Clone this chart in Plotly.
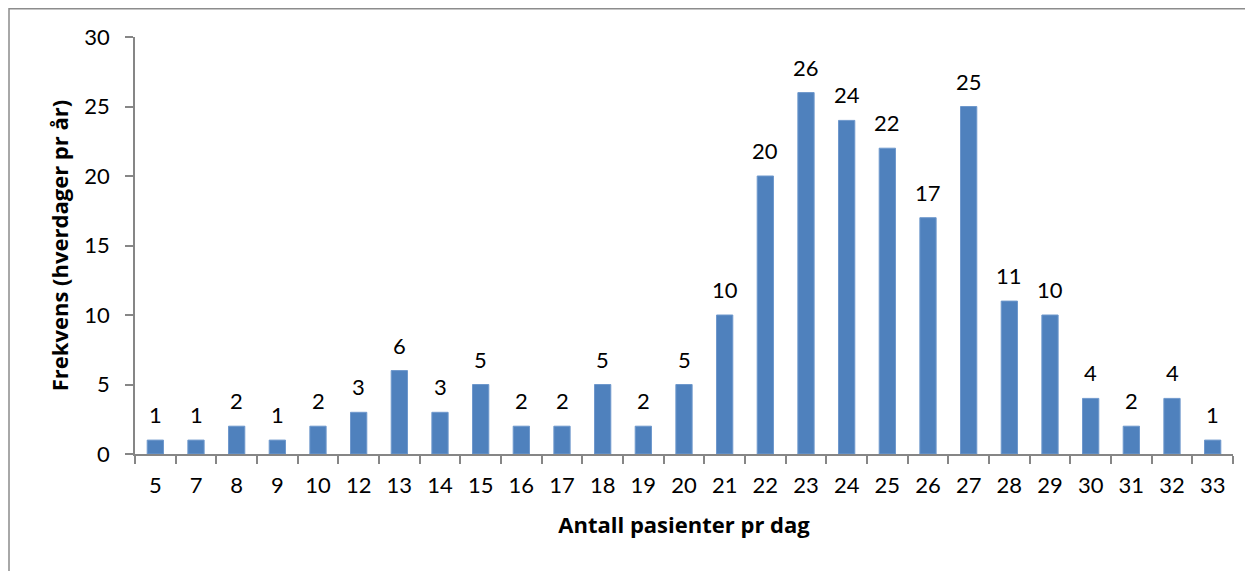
import plotly.graph_objects as go

categories = ["5", "7", "8", "9", "10", "12", "13", "14", "15", "16", "17", "18", "19", "20",
              "21", "22", "23", "24", "25", "26", "27", "28", "29", "30", "31", "32", "33"]
values = [1, 1, 2, 1, 2, 3, 6, 3, 5, 2, 2, 5, 2, 5, 10, 20, 26, 24, 22, 17, 25, 11, 10, 4, 2, 4, 1]

FONT = "Lato"
TFONT = "Open Sans"
AX = "#868686"
FS = 22
TS = 22

fig = go.Figure(go.Bar(
    x=categories, y=values,
    marker=dict(color="#4F81BD", line=dict(color="#6E98CC", width=1)),
    cliponaxis=False,
))

# value labels placed at each category's index on the category axis
for i, v in enumerate(values):
    fig.add_annotation(x=i, y=v, xref="x", yref="y", text=str(v), showarrow=False,
                       xanchor="center", yanchor="bottom", yshift=10,
                       font=dict(family=FONT, size=FS, color="black"))

# the page body adds an 8px offset, so the figure is sized/margined to compensate
W, H = 1245, 563
l, r, t, b = 127, 20, 29, 117
fig.update_layout(
    width=W, height=H,
    margin=dict(l=l, r=r, t=t, b=b),
    plot_bgcolor="white", paper_bgcolor="white",
    bargap=0.6, showlegend=False,
    font=dict(family=FONT, size=FS, color="black"),
    xaxis=dict(type="category", categoryorder="array", categoryarray=categories,
               range=[-0.5, len(categories) - 0.5], tickangle=0,
               showline=True, linecolor=AX, linewidth=1.5,
               ticks="outside", tickson="boundaries", ticklen=8, tickcolor=AX, tickwidth=1.5,
               tickfont=dict(family=FONT, size=FS, color="black"), ticklabelstandoff=11,
               title=dict(text="<b>Antall pasienter pr dag</b>",
                          font=dict(family=TFONT, size=TS, color="black"), standoff=20),
               showgrid=False, automargin=False),
    yaxis=dict(range=[0, 30], dtick=5, showline=True, linecolor=AX, linewidth=1.5,
               ticks="outside", ticklen=8, tickcolor=AX, tickwidth=1.5,
               tickfont=dict(family=FONT, size=FS, color="black"), ticklabelstandoff=11,
               title=dict(text="<b>Frekvens (hverdager pr år)</b>",
                          font=dict(family=TFONT, size=TS, color="black"), standoff=10),
               showgrid=False, zeroline=False, automargin=False),
)

pw = W - l - r
ph = H - t - b
def px2x(px):
    return (px - l) / pw
def py2y(py):
    return (H - b - py) / ph

fig.add_shape(type="rect", xref="paper", yref="paper",
              x0=px2x(1), x1=px2x(W + 10), y0=py2y(H + 10), y1=py2y(0.75),
              line=dict(color="#8c8c8c", width=1.5), fillcolor="rgba(0,0,0,0)", layer="below")

fig.write_html("out.html")
